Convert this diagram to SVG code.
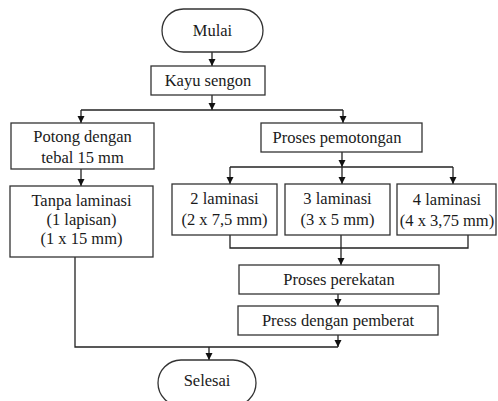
<svg xmlns="http://www.w3.org/2000/svg" width="498" height="401" viewBox="0 0 498 401">
<style>
.box{fill:#fff;stroke:#333;stroke-width:1.3}
.t{font-family:"Liberation Serif","Times New Roman",serif;font-size:16.5px;fill:#1a1a1a;text-anchor:middle}
.c{fill:none;stroke:#222;stroke-width:1.3}
.a{marker-end:url(#ah)}
</style>
<defs>
<marker id="ah" markerUnits="userSpaceOnUse" markerWidth="8" markerHeight="8" refX="7" refY="3.5" orient="auto">
<path d="M0,0 L7,3.5 L0,7 z" fill="#111"/>
</marker>
</defs>
<rect width="498" height="401" fill="#fff"/>
<g id="connectors">
<path class="c a" d="M212,52 V66"/>
<path class="c a" d="M212,95 V110"/>
<path class="c" d="M81,110 H343"/>
<path class="c a" d="M81,110 V123"/>
<path class="c a" d="M343,110 V123"/>
<path class="c a" d="M81,169 V186"/>
<path class="c a" d="M342,152 V167"/>
<path class="c" d="M230,167 H453"/>
<path class="c a" d="M230,167 V184"/>
<path class="c a" d="M342,167 V184"/>
<path class="c a" d="M453,167 V184"/>
<path class="c" d="M230,235 V248 H468 V235"/>
<path class="c a" d="M341,235 V265"/>
<path class="c a" d="M338,294 V306"/>
<path class="c a" d="M338,335 V347"/>
<path class="c" d="M75,257 V347 H338"/>
<path class="c a" d="M209,347 V360"/>
</g>
<g id="mulai"><rect class="box" x="162" y="9" width="101" height="43" rx="21.5"/><text class="t" x="212.5" y="36">Mulai</text></g>
<g id="kayu"><rect class="box" x="151" y="66" width="114" height="29"/><text class="t" x="208" y="86">Kayu sengon</text></g>
<g id="potong"><rect class="box" x="11" y="123" width="143" height="46"/><text class="t" x="82.5" y="142">Potong dengan</text><text class="t" x="82.5" y="163">tebal 15 mm</text></g>
<g id="pemotongan"><rect class="box" x="261" y="123" width="161" height="29"/><text class="t" x="337" y="143">Proses pemotongan</text></g>
<g id="tanpa"><rect class="box" x="10" y="186" width="143" height="71"/><text class="t" x="81.5" y="206">Tanpa laminasi</text><text class="t" x="81.5" y="225">(1 lapisan)</text><text class="t" x="81.5" y="244">(1 x 15 mm)</text></g>
<g id="lam2"><rect class="box" x="172" y="184" width="105" height="51"/><text class="t" x="224.5" y="204">2 laminasi</text><text class="t" x="224.5" y="225">(2 x 7,5 mm)</text></g>
<g id="lam3"><rect class="box" x="285" y="184" width="105" height="51"/><text class="t" x="337.5" y="204">3 laminasi</text><text class="t" x="337.5" y="225">(3 x 5 mm)</text></g>
<g id="lam4"><rect class="box" x="397" y="184" width="99" height="51"/><text class="t" x="447" y="205">4 laminasi</text><text class="t" x="447" y="226">(4 x 3,75 mm)</text></g>
<g id="perekatan"><rect class="box" x="239" y="265" width="200" height="29"/><text class="t" x="339" y="285">Proses perekatan</text></g>
<g id="press"><rect class="box" x="238" y="306" width="200" height="29"/><text class="t" x="338" y="326">Press dengan pemberat</text></g>
<g id="selesai"><rect class="box" x="158" y="360" width="98" height="46" rx="23"/><text class="t" x="207" y="386">Selesai</text></g>
</svg>
